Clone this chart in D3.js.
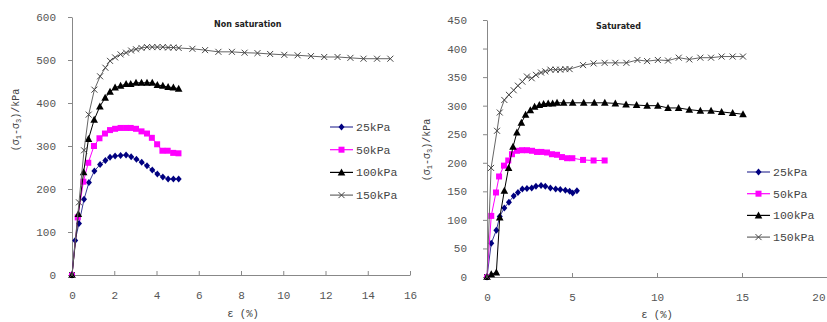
<!DOCTYPE html>
<html>
<head>
<meta charset="utf-8">
<title>Stress-strain curves</title>
<script src="https://d3js.org/d3.v7.min.js"></script>
<style>
  body { margin: 0; background: #fff; }
  .tick text { font-family: "Liberation Mono", monospace; font-size: 11px; fill: #555; }
  .domain, .tick line { stroke: #888; }
</style>
</head>
<body>
<script>
// confining pressures (legend)
var labels = ["25kPa", "50kPa", "100kPa", "150kPa"]

// non saturated samples: [strain %, deviator stress kPa]
var ns25 = [[0,0],[0.15,80],[0.33,120],[0.57,176],[0.8,215],[1.06,242],[1.33,257],[1.58,266],[1.8,274],[2.04,277],[2.3,278],[2.56,279],[2.8,275],[3.05,269],[3.3,262],[3.55,254],[3.8,244],[4.04,235],[4.3,228],[4.55,223],[4.8,223],[5.05,223]]
var ns50 = [[0,0],[0.27,134],[0.54,217],[0.77,261],[1.04,300],[1.3,318],[1.56,329],[1.8,337],[2.04,340],[2.3,342],[2.56,342],[2.78,342],[3.03,340],[3.29,334],[3.55,329],[3.78,319],[4.03,304],[4.28,289],[4.53,289],[4.79,284],[5.04,283]]
var ns100 = [[0,0],[0.3,142],[0.55,239],[0.78,316],[1.05,361],[1.32,392],[1.57,412],[1.8,426],[2.04,436],[2.3,440],[2.56,444],[2.78,444],[3.03,447],[3.29,447],[3.55,447],[3.8,447],[4.04,442],[4.3,440],[4.55,437],[4.8,436],[5.05,433]]
var ns150 = [[0,0],[0.33,169],[0.57,290],[0.79,373],[1.06,431],[1.33,462],[1.58,482],[1.8,498],[2.04,506],[2.3,513],[2.56,517],[2.8,522],[3.03,525],[3.29,528],[3.55,530],[3.8,530],[4.04,530],[4.3,530],[4.55,529],[4.8,529],[5.05,528],[5.7,526],[6.3,523],[6.93,519],[7.57,519],[8.17,517],[8.78,516],[9.38,514],[10.05,512],[10.68,511],[11.31,509],[11.94,507],[12.57,507],[13.18,505],[13.8,503],[14.44,503],[15.07,503]]

// saturated samples
var s25 = [[0,0],[0.25,59],[0.55,82],[0.75,106],[1.02,121],[1.29,131],[1.57,142],[1.82,148],[2.08,154],[2.35,155],[2.63,156],[2.88,159],[3.18,160],[3.43,159],[3.73,156],[4.04,154],[4.31,153],[4.61,152],[4.86,150],[5.04,147],[5.29,151]]
var s50 = [[0,0],[0.25,107],[0.53,148],[0.71,176],[1.0,195],[1.25,204],[1.47,215],[1.76,221],[2.06,222],[2.35,222],[2.65,221],[2.94,219],[3.2,219],[3.53,218],[3.82,215],[4.12,214],[4.41,210],[4.71,208],[5.02,208],[5.65,205],[6.27,204],[6.92,204]]
var s100 = [[0,0],[0.25,5],[0.55,8],[0.75,104],[1.02,151],[1.27,191],[1.53,228],[1.76,253],[2.02,270],[2.27,284],[2.55,292],[2.8,298],[3.08,301],[3.33,303],[3.6,304],[3.86,304],[4.12,305],[4.51,305],[5.04,305],[5.69,305],[6.31,305],[6.93,305],[7.55,304],[8.18,302],[8.8,301],[9.42,300],[10.05,300],[10.65,296],[11.27,296],[11.9,293],[12.55,291],[13.18,291],[13.8,289],[14.45,287],[15.06,285]]
var s150 = [[0,0],[0.24,191],[0.59,256],[0.75,288],[1.02,310],[1.29,319],[1.57,327],[1.82,335],[2.08,342],[2.35,351],[2.63,348],[2.88,354],[3.18,358],[3.43,360],[3.73,363],[4.04,363],[4.31,363],[4.61,364],[4.86,364],[5.65,371],[6.27,374],[6.92,375],[7.55,375],[8.2,375],[8.85,380],[9.42,378],[10.05,380],[10.65,379],[11.28,384],[11.9,381],[12.55,384],[13.18,384],[13.8,386],[14.45,386],[15.06,386]]

var xTicksNs = [0,2,4,6,8,10,12,14,16]
var yTicksNs = [0,100,200,300,400,500,600]
var xTicksS = [0,5,10,15,20]
var yTicksS = [0,50,100,150,200,250,300,350,400,450]

var styles = [
  {line: "#3a3a9a", fill: "#000080", sym: "diamond"},
  {line: "#ff00ff", fill: "#ff00ff", sym: "square"},
  {line: "#000", fill: "#000", sym: "triangle"},
  {line: "#666", fill: "#444", sym: "cross"}
]

var svg = d3.select("body").append("svg")
  .attr("width", 827)
  .attr("height", 322)

function marker(g, sym, color) {
  if (sym == "diamond") {
    g.append("path").attr("d", "M0,-3.5L3,0L0,3.5L-3,0Z").attr("fill", color)
  } else if (sym == "square") {
    g.append("rect").attr("x", -3).attr("y", -3).attr("width", 6).attr("height", 6).attr("fill", color)
  } else if (sym == "triangle") {
    g.append("path").attr("d", "M0,-4L3.8,3L-3.8,3Z").attr("fill", color)
  } else {
    g.append("path").attr("d", "M-3,-3L3,3M3,-3L-3,3").attr("stroke", color).attr("stroke-width", 1).attr("fill", "none")
  }
}

function panel(p) {
  var x = d3.scaleLinear().domain(p.xDomain).range(p.xRange)
  var y = d3.scaleLinear().domain(p.yDomain).range(p.yRange)

  var xg = svg.append("g")
    .attr("transform", "translate(0," + p.yRange[0] + ")")
    .call(d3.axisBottom(x).tickValues(p.xTicks).tickSizeInner(-4).tickSizeOuter(0).tickPadding(16))
  // keep the last label inside the window
  xg.selectAll(".tick text").filter(d => x(d) > 820).attr("text-anchor", "end").attr("dx", -2)

  svg.append("g")
    .attr("transform", "translate(" + p.xRange[0] + ",0)")
    .call(d3.axisLeft(y).tickValues(p.yTicks).tickSizeInner(4).tickSizeOuter(0).tickPadding(p.yPad))

  var line = d3.line().x(d => x(d[0])).y(d => y(d[1]))

  p.series.forEach(function(s, i) {
    var st = styles[i]
    svg.append("path").datum(s)
      .attr("d", line)
      .attr("fill", "none")
      .attr("stroke", st.line)
      .attr("stroke-width", 1)
    svg.append("g").selectAll("g").data(s).enter().append("g")
      .attr("transform", d => "translate(" + x(d[0]) + "," + y(d[1]) + ")")
      .each(function() { marker(d3.select(this), st.sym, st.fill) })
  })

  // title
  svg.append("text")
    .attr("x", p.title[1]).attr("y", p.title[2])
    .attr("font-family", "DejaVu Sans").attr("font-weight", "bold").attr("font-size", 8)
    .attr("fill", "#222")
    .text(p.title[0])

  // legend
  labels.forEach(function(lab, i) {
    var ly = p.legend[1] + i * p.legend[2]
    var lx = p.legend[0]
    svg.append("line").attr("x1", lx).attr("x2", lx + 23).attr("y1", ly).attr("y2", ly)
      .attr("stroke", styles[i].line).attr("stroke-width", 1.2)
    marker(svg.append("g").attr("transform", "translate(" + (lx + 11.5) + "," + ly + ")"), styles[i].sym, styles[i].fill)
    svg.append("text").attr("x", lx + 26).attr("y", ly + 4)
      .attr("font-family", "Liberation Mono").attr("font-size", 11.5).attr("fill", "#444")
      .text(lab)
  })

  // axis titles
  svg.append("text")
    .attr("x", p.xLabel[0]).attr("y", p.xLabel[1])
    .attr("text-anchor", "middle")
    .attr("font-family", "Liberation Mono").attr("font-size", 10.5).attr("fill", "#444")
    .text("ε (%)")

  var yl = svg.append("text")
    .attr("transform", "translate(" + p.yLabel[0] + "," + p.yLabel[1] + ") rotate(-90)")
    .attr("text-anchor", "middle")
    .attr("font-family", "Liberation Mono").attr("font-size", 10).attr("fill", "#444")
  yl.append("tspan").text("(σ")
  yl.append("tspan").attr("font-size", 7).attr("dy", 2).text("1")
  yl.append("tspan").attr("dy", -2).text("-σ")
  yl.append("tspan").attr("font-size", 7).attr("dy", 2).text("3")
  yl.append("tspan").attr("dy", -2).text(")/kPa")
}

panel({
  xDomain: [0, 16], xRange: [72, 410],
  yDomain: [0, 600], yRange: [275, 17],
  xTicks: xTicksNs, yTicks: yTicksNs, yPad: 12,
  series: [ns25, ns50, ns100, ns150],
  title: ["Non saturation", 214, 27],
  legend: [330, 127, 22.7],
  xLabel: [243, 317],
  yLabel: [19, 120]
})

panel({
  xDomain: [0, 20], xRange: [487, 827],
  yDomain: [0, 450], yRange: [277, 20],
  xTicks: xTicksS, yTicks: yTicksS, yPad: 16,
  series: [s25, s50, s100, s150],
  title: ["Saturated", 596, 29],
  legend: [747, 172, 21.7],
  xLabel: [657, 318],
  yLabel: [430, 150]
})
</script>
</body>
</html>
